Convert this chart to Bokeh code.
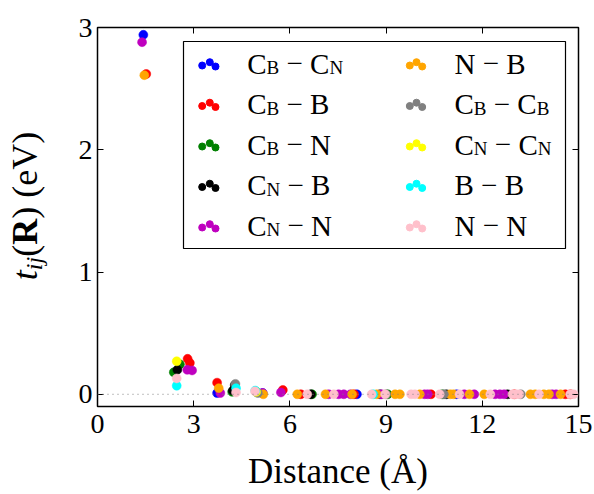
from bokeh.plotting import figure
from bokeh.models import Range1d, LinearAxis, FixedTicker, Span, Label, Div
from bokeh.layouts import row
from bokeh.embed import file_html
from bokeh.resources import INLINE

# ---------------- data ----------------
names = ["C_B − C_N", "C_B − B", "C_B − N", "C_N − B", "C_N − N",
         "N − B", "C_B − C_B", "C_N − C_N", "B − B", "N − N"]
colors = ["#0000ff", "#ff0000", "#008000", "#000000", "#bf00bf",
          "#ffa500", "#808080", "#ffff00", "#00ffff", "#ffc0cb"]

cbcn_x = [1.43, 3.73, 5.15, 8.09, 11.20]
cbcn_y = [2.94, 0.010, 0.010, 0.000, 0.000]

cbb_x = [1.52, 2.81, 2.88, 3.73, 5.78, 6.34, 8.00, 10.40, 13.00, 14.59, 14.75]
cbb_y = [2.62, 0.290, 0.256, 0.095, 0.035, 0.000, 0.000, 0.000, 0.000, 0.000, 0.000]

cbn_x = [2.57, 2.38, 4.20, 4.95, 6.69, 9.05, 10.75]
cbn_y = [0.245, 0.180, 0.020, 0.020, 0.000, 0.000, 0.000]

cnb_x = [2.49, 4.28, 4.22, 6.65, 8.81, 10.88, 12.79]
cnb_y = [0.200, 0.075, 0.030, 0.000, 0.000, 0.000, 0.000]

cnn_x = [1.39, 2.80, 2.95, 3.83, 5.15, 5.72, 7.21, 7.52, 7.68, 7.89, 8.86,
         10.20, 10.30, 11.44, 11.75, 12.40, 12.55, 12.68, 14.18, 14.30]
cnn_y = [2.88, 0.200, 0.195, 0.010, 0.010, 0.015, 0.000, 0.000, 0.000, 0.000, 0.000,
         0.000, 0.000, 0.000, 0.000, 0.000, 0.000, 0.000, 0.000, 0.000]

nb_x = [1.46, 3.78, 5.17, 6.23, 7.11, 7.94, 8.71, 9.28, 9.43, 10.05, 11.00,
        11.10, 11.60, 12.06, 13.50, 13.65, 13.92, 14.08, 14.44]
nb_y = [2.61, 0.050, 0.000, 0.000, 0.000, 0.000, 0.000, 0.000, 0.000, 0.000, 0.000,
        0.000, 0.000, 0.000, 0.000, 0.000, 0.000, 0.000, 0.000]

cbcb_x = [4.30, 5.00, 9.00, 10.80, 13.20]
cbcb_y = [0.085, 0.010, 0.000, 0.000, 0.000]

cncn_x = [2.47, 4.95]
cncn_y = [0.270, 0.020]

bb_x = [2.47, 4.32, 4.92, 8.60]
bb_y = [0.070, 0.050, 0.030, 0.000]

nn_x = [2.47, 4.32, 4.91, 6.54, 7.37, 8.55, 8.97, 9.78, 9.90, 10.67, 11.29,
        12.25, 12.94, 13.05, 13.15, 13.77, 14.74, 14.85]
nn_y = [0.130, 0.015, 0.025, 0.000, 0.000, 0.000, 0.000, 0.000, 0.000, 0.000, 0.000,
        0.000, 0.000, 0.000, 0.000, 0.000, 0.000, 0.000]

xs_all = [cbcn_x, cbb_x, cbn_x, cnb_x, cnn_x, nb_x, cbcb_x, cncn_x, bb_x, nn_x]
ys_all = [cbcn_y, cbb_y, cbn_y, cnb_y, cnn_y, nb_y, cbcb_y, cncn_y, bb_y, nn_y]

x_ticks = [0, 3, 6, 9, 12, 15]
y_ticks = [0, 1, 2, 3]

# ---------------- layout ----------------
W, H = 594, 494
DIVW = 55
BL, BR, BT, BB = 97, 16, 27, 88          # frame borders in page pixels
FW, FH = W - BL - BR, H - BT - BB
SERIF = "Liberation Serif"

p = figure(width=W - DIVW, height=H, x_range=Range1d(0, 15), y_range=Range1d(-0.1, 3.0),
           output_backend="svg", toolbar_location=None,
           min_border_left=BL - DIVW, min_border_right=BR, min_border_top=BT,
           min_border_bottom=BB, x_axis_label="Distance (Å)")
p.extra_x_ranges = {"px": Range1d(0, FW)}
p.extra_y_ranges = {"py": Range1d(0, FH)}
p.background_fill_color = "white"
p.border_fill_color = "white"
p.outline_line_color = "black"
p.outline_line_width = 1.5
p.xgrid.visible = False
p.ygrid.visible = False

p.add_layout(LinearAxis(), "above")
p.add_layout(LinearAxis(), "right")

for ax in p.xaxis:
    ax.ticker = FixedTicker(ticks=x_ticks)
for ax in p.yaxis:
    ax.ticker = FixedTicker(ticks=y_ticks)
for ax in p.xaxis + p.yaxis:
    ax.axis_line_color = None
    ax.major_tick_in = 6
    ax.major_tick_out = 0
    ax.major_tick_line_color = "black"
    ax.major_tick_line_width = 1
    ax.minor_tick_line_color = None
    ax.major_label_text_font = SERIF
    ax.major_label_text_font_size = "28px"
    ax.major_label_text_color = "black"

p.above[0].major_label_text_font_size = "1px"
p.above[0].major_label_text_color = None
p.right[0].major_label_text_font_size = "1px"
p.right[0].major_label_text_color = None

p.below[0].major_label_standoff = 8
p.below[0].axis_label_standoff = 16
p.below[0].axis_label_text_font = SERIF
p.below[0].axis_label_text_font_size = "35px"
p.below[0].axis_label_text_font_style = "normal"
p.below[0].axis_label_text_color = "black"
p.left[0].major_label_standoff = 5

# ---------------- data marks ----------------
for xs, ys, c in zip(xs_all, ys_all, colors):
    p.scatter(xs, ys, size=9, fill_color=c, line_color=c, line_width=0.5)

p.add_layout(Span(location=0, dimension="width", line_color="#808080",
                  line_width=1, line_dash="1 4"))

# ---------------- legend (box, 3-dot keys, text with subscripts) ----------------
box_l, box_r = 183 - BL, 565 - BL
box_t, box_b = H - BB - 41, H - BB - 248
p.quad(left=[box_l], right=[box_r], top=[box_t], bottom=[box_b],
       fill_color="white", line_color="black", line_width=1.2,
       x_range_name="px", y_range_name="py")

row_cy = [63.3 + 40.5 * i for i in range(5)]
col_dot_x = [[201.7, 209.3, 215.0], [409.3, 416.0, 421.7]]
dot_dy = [-1.7, 1.6, -2.7]
col_text_x = [246.7, 454.0]

EM = {"C": 0.667, "B": 0.667, "N": 0.722, " ": 0.25, "−": 0.564}
MAIN, SUB, DROP = 29, 19, 4
BASE_OFF = 0.0   # baseline relative to key-dot row centre (page px, downwards)

def tokens(name):
    """split 'C_B − C_N' into (text, is_subscript) runs; spaces kept as own runs"""
    out, i = [], 0
    while i < len(name):
        ch = name[i]
        if ch == "_":
            out.append((name[i + 1], True))
            i += 2
            continue
        if out and not out[-1][1] and (out[-1][0][-1] == " ") == (ch == " "):
            out[-1] = (out[-1][0] + ch, False)
        else:
            out.append((ch, False))
        i += 1
    return out

for k, (name, c) in enumerate(zip(names, colors)):
    col, rw = divmod(k, 5)
    cy = row_cy[rw]
    kx = [x - BL for x in col_dot_x[col]]
    ky = [(H - BB - cy) + d for d in dot_dy]
    p.scatter(kx, ky, size=7, fill_color=c, line_color=c,
              x_range_name="px", y_range_name="py")
    x = col_text_x[col] - BL
    base = H - BB - (cy + BASE_OFF)
    for txt, sub in tokens(name):
        fs = SUB if sub else MAIN
        if txt.strip():
            p.add_layout(Label(x=x, y=base - (DROP if sub else 0), x_units="screen",
                               y_units="screen", text=txt, text_font=SERIF,
                               text_font_size=f"{fs}px", text_color="black",
                               text_align="left", text_baseline="alphabetic"))
        x += sum(EM.get(ch, 0.5) for ch in txt) * fs

# ---------------- y axis label (HTML, rotated) ----------------
ylab_html = (
    '<div style="position:relative;width:%dpx;height:%dpx;">'
    '<div style="position:absolute;left:27px;top:206px;'
    'transform:translate(-50%%,-50%%) rotate(-90deg);white-space:nowrap;'
    "font-family:'Liberation Serif';font-size:36px;line-height:36px;color:#000;\">"
    '<i>t</i><span style="font-size:24px;position:relative;top:5px;"><i>ij</i></span>'
    '(<b>R</b>)&nbsp;(eV)</div></div>' % (DIVW, H)
)
ydiv = Div(text=ylab_html, width=DIVW, height=H, margin=0)

layout = row(ydiv, p, spacing=0)
open("out.html", "w").write(file_html(layout, INLINE))
